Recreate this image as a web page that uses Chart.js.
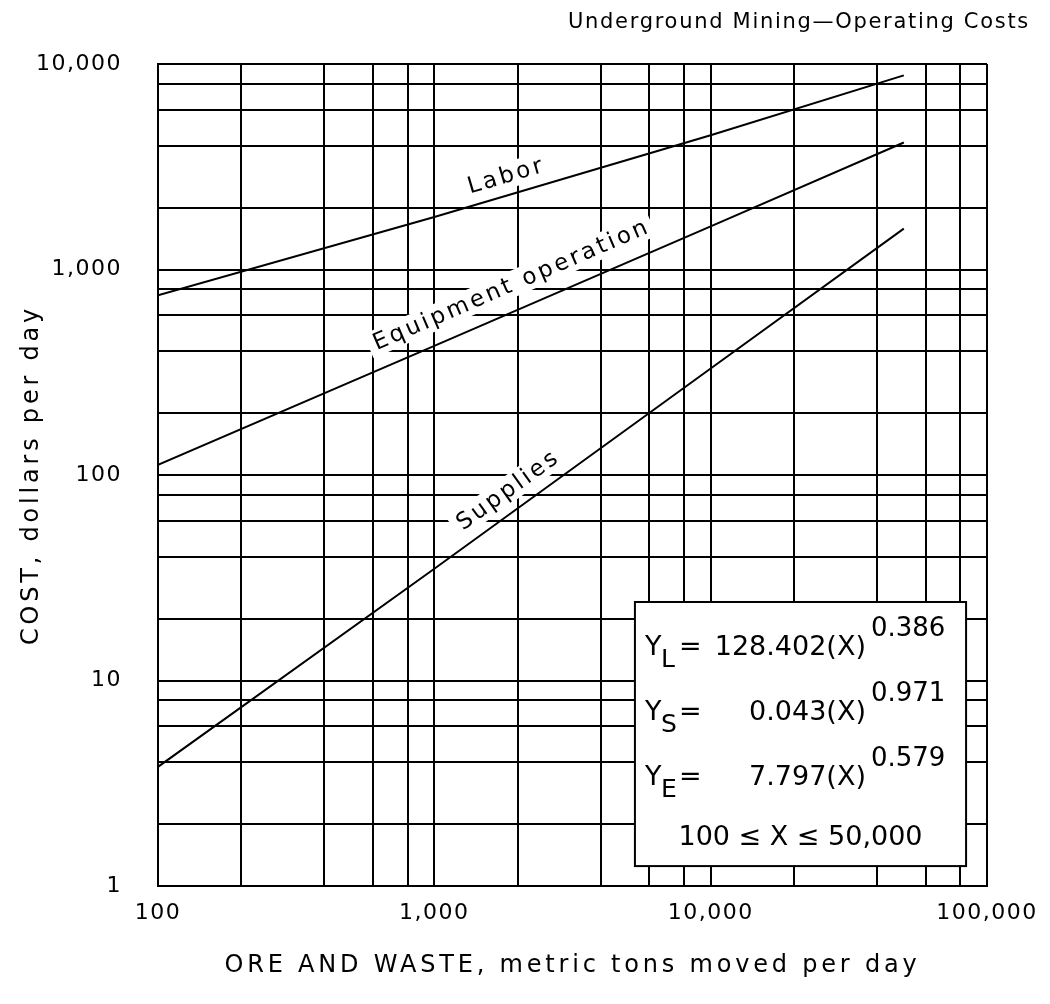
<!DOCTYPE html>
<html>
<head>
<meta charset="utf-8">
<script src="https://cdn.jsdelivr.net/npm/chart.js@4.4.1/dist/chart.umd.min.js"></script>
<style>
  html, body { margin: 0; padding: 0; background: #ffffff; }
  canvas { display: block; }
</style>
</head>
<body>
<canvas id="chart" width="1050" height="1004"></canvas>
<script>
// ---------------- data ----------------
const chartTitle = 'Underground Mining\u2014Operating Costs';
const xAxisTitle = 'ORE AND WASTE, metric tons moved per day';
const yAxisTitle = 'COST, dollars per day';

const tonsPerDay    = [100, 1000, 10000, 50000];
const laborCost     = [750, 1800, 4500, 8800];
const equipmentCost = [112, 425, 1620, 4150];
const suppliesCost  = [3.8, 35, 330, 1580];

const seriesNames = ['Labor', 'Equipment operation', 'Supplies'];

const xGridValues = [100, 200, 400, 600, 800, 1000, 2000, 4000, 6000, 8000,
                     10000, 20000, 40000, 60000, 80000, 100000];
const yGridValues = [1, 2, 4, 6, 8, 10, 20, 40, 60, 80, 100, 200, 400, 600, 800,
                     1000, 2000, 4000, 6000, 8000, 10000];
const xTickValues = [100, 1000, 10000, 100000];
const xTickLabels = ['100', '1,000', '10,000', '100,000'];
const yTickValues = [1, 10, 100, 1000, 10000];
const yTickLabels = ['1', '10', '100', '1,000', '10,000'];

// equation box text
const eqSubscripts = ['L', 'S', 'E'];
const eqCoefficients = ['128.402', '0.043', '7.797'];
const eqExponents = ['0.386', '0.971', '0.579'];
const eqRange = '100 \u2264 X \u2264 50,000';

// where the curve names sit (data coordinates: tons, dollars)
const nameAtTons = [1800, 1880, 1830];
const nameAtCost = [2850, 840, 84];
// equation box corners (data coordinates)
const boxTons = [5320, 84000];
const boxCost = [24.1, 1.25];

// ---------------- chart ----------------
const FONT = '"DejaVu Sans", "Liberation Sans", sans-serif';
const INK = '#000000';

function toPoints(ys) { return tonsPerDay.map((x, i) => ({ x: x, y: ys[i] })); }

function lineSet(label, ys) {
  return {
    label: label,
    data: toPoints(ys),
    borderColor: INK,
    borderWidth: 2,
    pointRadius: 0,
    fill: false,
    tension: 0
  };
}

const annotations = {
  id: 'annotations',
  beforeDraw(chart) { chart.ctx.letterSpacing = '3.8px'; },        // axis titles
  beforeDatasetsDraw(chart) { chart.ctx.letterSpacing = '0px'; },
  afterDatasetsDraw(chart) { chart.ctx.letterSpacing = '1.5px'; }, // tick labels
  afterDraw(chart) {
    const ctx = chart.ctx;
    const xs = chart.scales.x, ys = chart.scales.y;

    // curve names, parallel to their lines
    chart.data.datasets.forEach((ds, i) => {
      const p0 = ds.data[0], p1 = ds.data[ds.data.length - 1];
      const ang = Math.atan2(ys.getPixelForValue(p1.y) - ys.getPixelForValue(p0.y),
                             xs.getPixelForValue(p1.x) - xs.getPixelForValue(p0.x));
      const px = xs.getPixelForValue(nameAtTons[i]);
      const py = ys.getPixelForValue(nameAtCost[i]);
      ctx.save();
      ctx.translate(px, py);
      ctx.rotate(ang);
      ctx.font = '23px ' + FONT;
      ctx.letterSpacing = '3px';
      const w = ctx.measureText(seriesNames[i]).width - 3;
      ctx.fillStyle = '#ffffff';
      ctx.fillRect(-w / 2 - 6, -13, w + 12, 26);
      ctx.fillStyle = INK;
      ctx.textAlign = 'left';
      ctx.textBaseline = 'middle';
      ctx.fillText(seriesNames[i], -w / 2, 1);
      ctx.restore();
    });

    // equation box
    const bx0 = xs.getPixelForValue(boxTons[0]);
    const bx1 = xs.getPixelForValue(boxTons[1]);
    const by0 = ys.getPixelForValue(boxCost[0]);
    const by1 = ys.getPixelForValue(boxCost[1]);
    ctx.save();
    ctx.letterSpacing = '0px';
    ctx.fillStyle = '#ffffff';
    ctx.fillRect(bx0, by0, bx1 - bx0, by1 - by0);
    ctx.strokeStyle = INK;
    ctx.lineWidth = 2;
    ctx.strokeRect(bx0, by0, bx1 - bx0, by1 - by0);
    ctx.fillStyle = INK;
    ctx.textBaseline = 'alphabetic';
    const rowBase = [53, 118, 183];
    eqSubscripts.forEach((s, i) => {
      const base = by0 + rowBase[i];
      ctx.font = '27px ' + FONT;
      ctx.textAlign = 'left';
      ctx.fillText('Y', bx0 + 10, base);
      ctx.font = '25px ' + FONT;
      ctx.fillText(s, bx0 + 26, base + 12);
      ctx.font = '27px ' + FONT;
      ctx.fillText('=', bx0 + 44, base);
      ctx.textAlign = 'right';
      ctx.fillText(eqCoefficients[i] + '(X)', bx0 + 231, base);
      ctx.textAlign = 'left';
      ctx.font = '26px ' + FONT;
      ctx.fillText(eqExponents[i], bx0 + 236, base - 19);
    });
    ctx.font = '27px ' + FONT;
    ctx.textAlign = 'center';
    ctx.fillText(eqRange, (bx0 + bx1) / 2, by0 + 243);
    ctx.restore();

    // chart title, top right
    ctx.save();
    ctx.font = '21px ' + FONT;
    ctx.letterSpacing = '1.7px';
    ctx.fillStyle = INK;
    ctx.textAlign = 'right';
    ctx.textBaseline = 'middle';
    ctx.fillText(chartTitle, 1030, 23);
    ctx.restore();
    ctx.letterSpacing = '0px';
  }
};

function zeroPadding(scale) {
  scale.paddingTop = 0; scale.paddingBottom = 0;
  scale.paddingLeft = 0; scale.paddingRight = 0;
}

new Chart(document.getElementById('chart'), {
  type: 'line',
  data: {
    datasets: [
      lineSet(seriesNames[0], laborCost),
      lineSet(seriesNames[1], equipmentCost),
      lineSet(seriesNames[2], suppliesCost)
    ]
  },
  options: {
    responsive: false,
    animation: false,
    devicePixelRatio: 1,
    layout: { padding: { left: 0, top: 64, right: 63, bottom: 0 } },
    plugins: {
      legend: { display: false },
      title: { display: false },
      tooltip: { enabled: false }
    },
    scales: {
      x: {
        type: 'logarithmic',
        position: 'bottom',
        min: 100,
        max: 100000,
        afterBuildTicks: (s) => { s.ticks = xGridValues.map(v => ({ value: v })); },
        afterFit: (s) => { s.height = 118; zeroPadding(s); },
        grid: { color: INK, lineWidth: 2, drawTicks: false },
        border: { display: true, color: INK, width: 2 },
        ticks: {
          z: 1,
          autoSkip: false,
          maxRotation: 0,
          minRotation: 0,
          padding: 14,
          color: INK,
          font: { family: FONT, size: 22 },
          callback: (v) => { const k = xTickValues.indexOf(v); return k >= 0 ? xTickLabels[k] : ''; }
        },
        title: {
          display: true,
          text: xAxisTitle,
          color: INK,
          font: { family: FONT, size: 24 },
          padding: { top: 0, bottom: 24 }
        }
      },
      y: {
        type: 'logarithmic',
        position: 'left',
        min: 1,
        max: 10000,
        afterBuildTicks: (s) => { s.ticks = yGridValues.map(v => ({ value: v })); },
        afterFit: (s) => { s.width = 158; zeroPadding(s); },
        grid: { color: INK, lineWidth: 2, drawTicks: false },
        border: { display: true, color: INK, width: 2 },
        ticks: {
          z: 1,
          autoSkip: false,
          padding: 36,
          color: INK,
          font: { family: FONT, size: 22 },
          callback: (v) => { const k = yTickValues.indexOf(v); return k >= 0 ? yTickLabels[k] : ''; }
        },
        title: {
          display: true,
          text: yAxisTitle,
          color: INK,
          font: { family: FONT, size: 24 },
          padding: { top: 17, bottom: 0 }
        }
      }
    }
  },
  plugins: [annotations]
});
</script>
</body>
</html>
